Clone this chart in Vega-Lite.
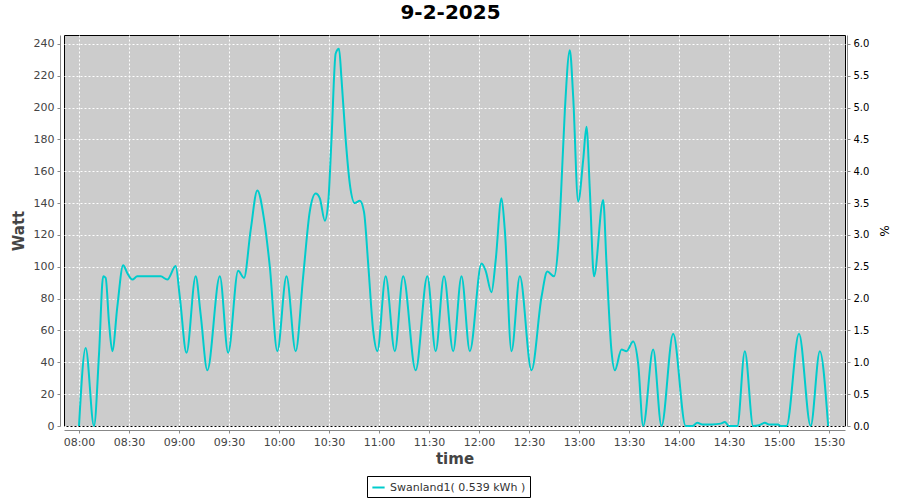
{
  "$schema": "https://vega.github.io/schema/vega-lite/v6.json",
  "autosize": {"type": "none"},
  "width": 781,
  "height": 391,
  "padding": {"left": 64, "top": 35, "right": 55, "bottom": 74},
  "background": "white",
  "title": {"text": "9-2-2025", "fontSize": 20, "fontWeight": "bold", "font": "DejaVu Sans", "color": "#000000", "anchor": "middle", "offset": 12, "dx": -4},
  "config": {
    "view": {"fill": "#CCCCCC", "stroke": "#000000", "strokeWidth": 1},
    "axis": {"gridColor": "#FFFFFF", "gridDash": [2, 2], "gridWidth": 1, "gridOpacity": 1, "domainColor": "#888888", "tickColor": "#888888", "labelFont": "DejaVu Sans", "labelFontSize": 11, "labelColor": "#444444", "titleFont": "DejaVu Sans", "titleColor": "#444444", "titleFontSize": 15, "titleFontWeight": "bold", "tickSize": 3, "labelPadding": 3}
  },
  "data": {"values": [
    {"time": "2025-02-09T08:00:00", "watt": 0},
    {"time": "2025-02-09T08:04:00", "watt": 49},
    {"time": "2025-02-09T08:09:00", "watt": 0},
    {"time": "2025-02-09T08:12:00", "watt": 45},
    {"time": "2025-02-09T08:14:30", "watt": 94},
    {"time": "2025-02-09T08:16:00", "watt": 93},
    {"time": "2025-02-09T08:18:00", "watt": 65},
    {"time": "2025-02-09T08:20:00", "watt": 47},
    {"time": "2025-02-09T08:23:00", "watt": 75},
    {"time": "2025-02-09T08:26:30", "watt": 101},
    {"time": "2025-02-09T08:29:00", "watt": 96},
    {"time": "2025-02-09T08:32:00", "watt": 92},
    {"time": "2025-02-09T08:35:00", "watt": 94},
    {"time": "2025-02-09T08:42:00", "watt": 94},
    {"time": "2025-02-09T08:49:00", "watt": 94},
    {"time": "2025-02-09T08:53:00", "watt": 92},
    {"time": "2025-02-09T08:58:00", "watt": 100.5},
    {"time": "2025-02-09T09:00:30", "watt": 81},
    {"time": "2025-02-09T09:04:30", "watt": 46},
    {"time": "2025-02-09T09:10:00", "watt": 94},
    {"time": "2025-02-09T09:13:00", "watt": 70},
    {"time": "2025-02-09T09:17:00", "watt": 35},
    {"time": "2025-02-09T09:24:30", "watt": 94},
    {"time": "2025-02-09T09:29:30", "watt": 46},
    {"time": "2025-02-09T09:35:30", "watt": 97.5},
    {"time": "2025-02-09T09:39:00", "watt": 93},
    {"time": "2025-02-09T09:43:00", "watt": 123},
    {"time": "2025-02-09T09:47:00", "watt": 148},
    {"time": "2025-02-09T09:51:00", "watt": 130},
    {"time": "2025-02-09T09:54:30", "watt": 100},
    {"time": "2025-02-09T09:59:00", "watt": 47},
    {"time": "2025-02-09T10:04:30", "watt": 94},
    {"time": "2025-02-09T10:10:00", "watt": 47},
    {"time": "2025-02-09T10:14:30", "watt": 94},
    {"time": "2025-02-09T10:18:30", "watt": 135},
    {"time": "2025-02-09T10:22:00", "watt": 146},
    {"time": "2025-02-09T10:24:30", "watt": 143},
    {"time": "2025-02-09T10:27:30", "watt": 129},
    {"time": "2025-02-09T10:29:30", "watt": 140},
    {"time": "2025-02-09T10:31:30", "watt": 180},
    {"time": "2025-02-09T10:34:00", "watt": 234},
    {"time": "2025-02-09T10:36:00", "watt": 237},
    {"time": "2025-02-09T10:37:30", "watt": 218},
    {"time": "2025-02-09T10:40:00", "watt": 180},
    {"time": "2025-02-09T10:42:30", "watt": 152},
    {"time": "2025-02-09T10:45:30", "watt": 140},
    {"time": "2025-02-09T10:48:30", "watt": 141.5},
    {"time": "2025-02-09T10:51:00", "watt": 134.5},
    {"time": "2025-02-09T10:53:30", "watt": 102},
    {"time": "2025-02-09T10:56:30", "watt": 60},
    {"time": "2025-02-09T10:59:00", "watt": 47},
    {"time": "2025-02-09T11:04:00", "watt": 94},
    {"time": "2025-02-09T11:09:30", "watt": 47},
    {"time": "2025-02-09T11:14:30", "watt": 94},
    {"time": "2025-02-09T11:22:00", "watt": 35},
    {"time": "2025-02-09T11:29:00", "watt": 94},
    {"time": "2025-02-09T11:34:00", "watt": 47},
    {"time": "2025-02-09T11:39:00", "watt": 94},
    {"time": "2025-02-09T11:44:30", "watt": 47},
    {"time": "2025-02-09T11:49:30", "watt": 94},
    {"time": "2025-02-09T11:54:30", "watt": 47},
    {"time": "2025-02-09T12:01:30", "watt": 102},
    {"time": "2025-02-09T12:04:00", "watt": 97.5},
    {"time": "2025-02-09T12:07:30", "watt": 84},
    {"time": "2025-02-09T12:10:00", "watt": 104},
    {"time": "2025-02-09T12:13:30", "watt": 143},
    {"time": "2025-02-09T12:15:30", "watt": 123},
    {"time": "2025-02-09T12:19:30", "watt": 47},
    {"time": "2025-02-09T12:24:30", "watt": 94},
    {"time": "2025-02-09T12:31:30", "watt": 35},
    {"time": "2025-02-09T12:37:30", "watt": 81},
    {"time": "2025-02-09T12:41:00", "watt": 97},
    {"time": "2025-02-09T12:45:00", "watt": 94},
    {"time": "2025-02-09T12:47:30", "watt": 113},
    {"time": "2025-02-09T12:49:00", "watt": 141},
    {"time": "2025-02-09T12:51:30", "watt": 198},
    {"time": "2025-02-09T12:54:30", "watt": 236},
    {"time": "2025-02-09T12:56:30", "watt": 207},
    {"time": "2025-02-09T12:59:30", "watt": 141},
    {"time": "2025-02-09T13:02:30", "watt": 167},
    {"time": "2025-02-09T13:04:30", "watt": 188},
    {"time": "2025-02-09T13:06:30", "watt": 148},
    {"time": "2025-02-09T13:09:00", "watt": 94},
    {"time": "2025-02-09T13:14:30", "watt": 142},
    {"time": "2025-02-09T13:16:30", "watt": 102},
    {"time": "2025-02-09T13:19:30", "watt": 47},
    {"time": "2025-02-09T13:21:30", "watt": 35},
    {"time": "2025-02-09T13:25:30", "watt": 48},
    {"time": "2025-02-09T13:28:30", "watt": 47},
    {"time": "2025-02-09T13:32:30", "watt": 53},
    {"time": "2025-02-09T13:35:30", "watt": 39},
    {"time": "2025-02-09T13:38:30", "watt": 0},
    {"time": "2025-02-09T13:44:30", "watt": 48},
    {"time": "2025-02-09T13:49:30", "watt": 0},
    {"time": "2025-02-09T13:56:30", "watt": 58},
    {"time": "2025-02-09T14:04:00", "watt": 0},
    {"time": "2025-02-09T14:08:00", "watt": 0},
    {"time": "2025-02-09T14:11:00", "watt": 2},
    {"time": "2025-02-09T14:14:00", "watt": 1},
    {"time": "2025-02-09T14:20:00", "watt": 1},
    {"time": "2025-02-09T14:25:00", "watt": 1.5},
    {"time": "2025-02-09T14:27:30", "watt": 2.5},
    {"time": "2025-02-09T14:30:00", "watt": 0},
    {"time": "2025-02-09T14:35:00", "watt": 0},
    {"time": "2025-02-09T14:39:30", "watt": 47},
    {"time": "2025-02-09T14:44:30", "watt": 0},
    {"time": "2025-02-09T14:48:00", "watt": 0.5},
    {"time": "2025-02-09T14:51:30", "watt": 2},
    {"time": "2025-02-09T14:54:00", "watt": 1},
    {"time": "2025-02-09T14:59:30", "watt": 1},
    {"time": "2025-02-09T15:01:00", "watt": 0},
    {"time": "2025-02-09T15:04:30", "watt": 0},
    {"time": "2025-02-09T15:12:00", "watt": 58},
    {"time": "2025-02-09T15:19:00", "watt": 0},
    {"time": "2025-02-09T15:24:30", "watt": 47},
    {"time": "2025-02-09T15:29:30", "watt": 0}
  ]},
  "layer": [
    {
      "mark": {"type": "line", "interpolate": "monotone", "strokeWidth": 2},
      "encoding": {
        "x": {"field": "time", "type": "temporal",
          "scale": {"domain": ["2025-02-09T07:51:00", "2025-02-09T15:39:36"], "nice": false},
          "axis": {"title": "time", "format": "%H:%M", "offset": 4, "labelFlush": false, "labelOverlap": false, "titlePadding": 4}},
        "y": {"field": "watt", "type": "quantitative",
          "scale": {"domain": [0, 245.6], "nice": false, "zero": true},
          "axis": {"title": "Watt", "offset": 4, "values": [0, 20, 40, 60, 80, 100, 120, 140, 160, 180, 200, 220, 240], "titlePadding": 7}},
        "color": {"datum": "Swanland1( 0.539 kWh )", "type": "nominal",
          "scale": {"range": ["#00CCCC"]},
          "legend": {"title": null, "orient": "none", "legendX": 303, "legendY": 441, "strokeColor": "#000000", "fillColor": "#FFFFFF", "padding": 4, "cornerRadius": 0, "symbolType": "stroke", "symbolStrokeWidth": 2, "symbolSize": 150, "labelFont": "DejaVu Sans", "labelFontSize": 11, "labelColor": "#333333", "labelLimit": 300}}
      }
    },
    {
      "mark": {"type": "line", "interpolate": "monotone", "strokeWidth": 2, "opacity": 0},
      "encoding": {
        "x": {"field": "time", "type": "temporal"},
        "y": {"field": "watt", "type": "quantitative",
          "scale": {"domain": [0, 245.6], "nice": false, "zero": true},
          "axis": {"orient": "right", "title": "%", "grid": false, "offset": 2, "values": [0, 20, 40, 60, 80, 100, 120, 140, 160, 180, 200, 220, 240], "labelExpr": "format(datum.value / 40, '.1f')", "labelFontSize": 10, "labelColor": "#000000", "titleFontWeight": "normal", "titleFontSize": 12, "titleColor": "#000000", "titlePadding": 8}}
      }
    }
  ],
  "resolve": {"scale": {"y": "independent"}}
}
